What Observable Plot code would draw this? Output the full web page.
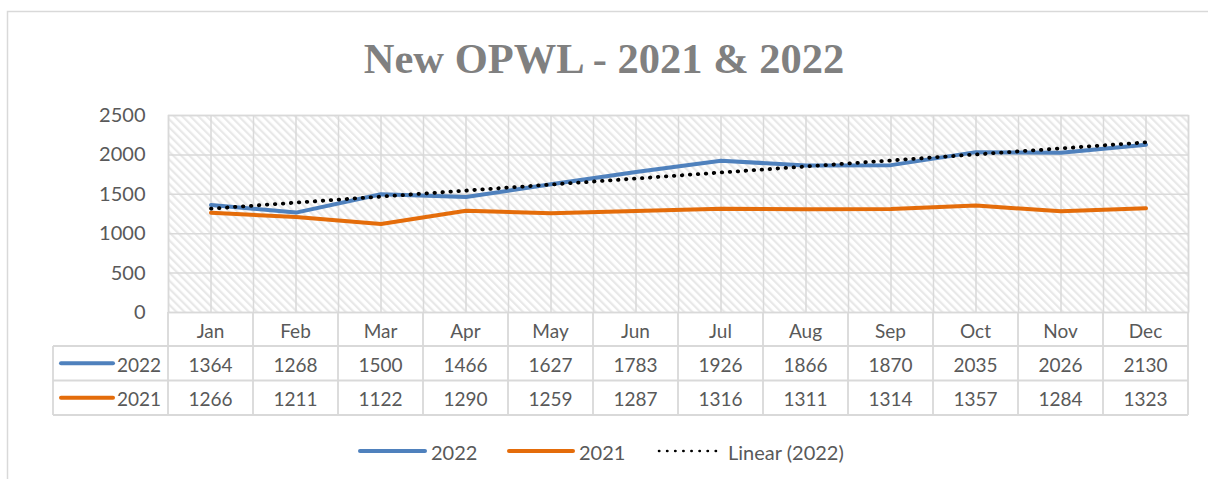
<!DOCTYPE html>
<html>
<head>
<meta charset="utf-8">
<script src="https://cdn.jsdelivr.net/npm/d3@7"></script>
<script src="https://cdn.jsdelivr.net/npm/@observablehq/plot@0.6"></script>
<style>
  html, body { margin: 0; padding: 0; background: white; }
  #chart { width: 1208px; height: 479px; overflow: hidden; }
</style>
</head>
<body>
<div id="chart"></div>
<script>
const title = "New OPWL - 2021 & 2022";
const months = ["Jan","Feb","Mar","Apr","May","Jun","Jul","Aug","Sep","Oct","Nov","Dec"];
const values2022 = [1364,1268,1500,1466,1627,1783,1926,1866,1870,2035,2026,2130];
const values2021 = [1266,1211,1122,1290,1259,1287,1316,1311,1314,1357,1284,1323];
const yTicks = [0,500,1000,1500,2000,2500];
const seriesNames = ["2022","2021"];
const trendName = "Linear (2022)";

const blue = "#4F81BD", orange = "#E46C0A", grid = "#d9d9d9", textColor = "#595959";

const data = months.map((m, k) => ({ i: k + 1, month: m, v22: values2022[k], v21: values2021[k] }));
const halfSteps = d3.range(0.5, months.length + 0.75, 0.5);

const plot = Plot.plot({
  width: 1208,
  height: 479,
  marginLeft: 168,
  marginRight: 20,
  marginTop: 115,
  marginBottom: 167,
  x: { domain: [0.5, months.length + 0.5], axis: null },
  y: { domain: [0, 2500], axis: null },
  style: { fontFamily: "Lato, 'Open Sans', sans-serif", background: "white", color: textColor, overflow: "visible" },
  marks: [
    Plot.frame({ fill: "url(#hatch)", stroke: grid, strokeWidth: 1.5 }),
    Plot.ruleY(yTicks, { stroke: grid, strokeWidth: 1.5 }),
    Plot.ruleX(halfSteps, { stroke: grid, strokeWidth: 1.5 }),
    Plot.axisY({ ticks: yTicks, tickSize: 0, tickPadding: 23, fontSize: 20, fill: textColor, tickFormat: d => String(d) }),
    Plot.line(data, { x: "i", y: "v22", stroke: blue, strokeWidth: 4, strokeLinejoin: "round" }),
    Plot.line(data, { x: "i", y: "v21", stroke: orange, strokeWidth: 4, strokeLinejoin: "round" }),
    Plot.linearRegressionY(data, { x: "i", y: "v22", ci: 0, stroke: "black", strokeWidth: 3.8, strokeDasharray: "0.5,7.5", strokeLinecap: "round" })
  ]
});

document.getElementById("chart").appendChild(plot);

const svg = d3.select(plot);
const x = plot.scale("x");
const sx = v => x.apply(v);

// hatch pattern
const defs = svg.insert("defs", ":first-child");
const pat = defs.append("pattern")
  .attr("id", "hatch").attr("patternUnits", "userSpaceOnUse")
  .attr("width", 5.7).attr("height", 5.7)
  .attr("patternTransform", "rotate(-45)");
pat.append("rect").attr("width", 5.7).attr("height", 5.7).attr("fill", "white");
pat.append("rect").attr("x", 0).attr("width", 2.2).attr("height", 5.7).attr("fill", "#e8e8e8");

// outer chart border
svg.insert("rect", "defs + *")
  .attr("x", 7.5).attr("y", 11.5).attr("width", 1400).attr("height", 700)
  .attr("fill", "none").attr("stroke", grid).attr("stroke-width", 1.5);

// title
svg.append("text")
  .attr("x", 604).attr("y", 73)
  .attr("text-anchor", "middle")
  .attr("font-family", "'Liberation Serif', 'DejaVu Serif', serif")
  .attr("font-weight", "bold")
  .attr("font-size", 42.5)
  .attr("fill", "#808080")
  .text(title);

// data table
const rowY = [312, 346, 380.5, 415];
const tableLeft = 53;
const xRight = sx(months.length + 0.5);
const tg = svg.append("g").attr("stroke", grid).attr("stroke-width", 1.8).attr("fill", "none");
[rowY[1], rowY[2], rowY[3]].forEach(yy => {
  tg.append("line").attr("x1", tableLeft).attr("x2", xRight).attr("y1", yy).attr("y2", yy);
});
tg.append("line").attr("x1", tableLeft).attr("x2", tableLeft).attr("y1", rowY[1]).attr("y2", rowY[3]);
d3.range(0, months.length + 1).forEach(k => {
  const xx = sx(k + 0.5);
  tg.append("line").attr("x1", xx).attr("x2", xx).attr("y1", rowY[0]).attr("y2", rowY[3]);
});

const txt = svg.append("g")
  .attr("font-family", "Lato, 'Open Sans', sans-serif")
  .attr("font-size", 19).attr("fill", textColor)
  .attr("text-anchor", "middle").attr("dominant-baseline", "central");
data.forEach(d => {
  txt.append("text").attr("x", sx(d.i)).attr("y", (rowY[0] + rowY[1]) / 2 + 1).text(d.month);
  txt.append("text").attr("x", sx(d.i)).attr("y", (rowY[1] + rowY[2]) / 2 + 1).text(d.v22);
  txt.append("text").attr("x", sx(d.i)).attr("y", (rowY[2] + rowY[3]) / 2 + 1).text(d.v21);
});
[[seriesNames[0], blue, (rowY[1] + rowY[2]) / 2], [seriesNames[1], orange, (rowY[2] + rowY[3]) / 2]].forEach(([name, col, yy]) => {
  svg.append("line").attr("x1", 61).attr("x2", 113).attr("y1", yy).attr("y2", yy)
    .attr("stroke", col).attr("stroke-width", 4).attr("stroke-linecap", "round");
  svg.append("text").attr("x", 161).attr("y", yy + 1)
    .attr("text-anchor", "end").attr("dominant-baseline", "central")
    .attr("font-family", "Lato, 'Open Sans', sans-serif").attr("font-size", 19).attr("fill", textColor)
    .text(name);
});

// legend
const legY = 451;
const legendItems = [
  { name: seriesNames[0], col: blue, x0: 360, x1: 425, dotted: false },
  { name: seriesNames[1], col: orange, x0: 509, x1: 573, dotted: false },
  { name: trendName, col: "black", x0: 659, x1: 716, dotted: true }
];
legendItems.forEach(it => {
  const ln = svg.append("line").attr("x1", it.x0).attr("x2", it.x1).attr("y1", legY).attr("y2", legY)
    .attr("stroke", it.col).attr("stroke-linecap", "round");
  if (it.dotted) ln.attr("stroke-width", 2.6).attr("stroke-dasharray", "0.3,7.8");
  else ln.attr("stroke-width", 4);
  svg.append("text").attr("x", it.x1 + (it.dotted ? 12 : 6)).attr("y", legY + 1)
    .attr("text-anchor", "start")
    .attr("dominant-baseline", "central")
    .attr("font-family", "Lato, 'Open Sans', sans-serif").attr("font-size", 20).attr("fill", textColor)
    .text(it.name);
});
</script>
</body>
</html>
